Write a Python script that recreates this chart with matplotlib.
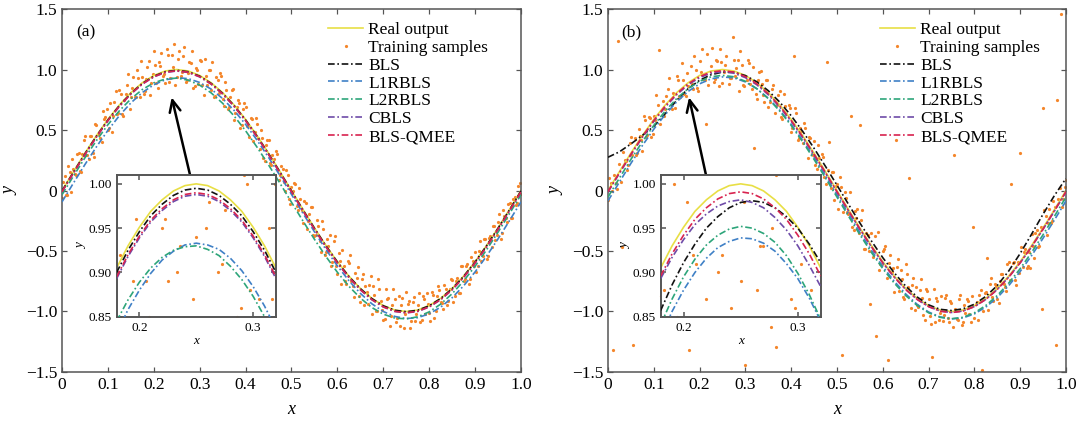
import matplotlib.pyplot as plt
import numpy as np

plt.rcParams['font.family'] = ['Liberation Serif', 'DejaVu Serif']

# curve grid (main axes) and inset grid
grid_x = np.linspace(0, 1, 41)
inset_x = np.linspace(0.18, 0.32, 15)

real = [0.000, 0.156, 0.309, 0.454, 0.588, 0.707, 0.809, 0.891, 0.951, 0.988, 1.000,
        0.988, 0.951, 0.891, 0.809, 0.707, 0.588, 0.454, 0.309, 0.156, 0.000,
        -0.156, -0.309, -0.454, -0.588, -0.707, -0.809, -0.891, -0.951, -0.988, -1.000,
        -0.988, -0.951, -0.891, -0.809, -0.707, -0.588, -0.454, -0.309, -0.156, 0.000]

# panel (a)
a_bls = [-0.004, 0.152, 0.304, 0.449, 0.583, 0.702, 0.803, 0.885, 0.945, 0.982, 0.994,
         0.982, 0.945, 0.885, 0.803, 0.702, 0.583, 0.449, 0.304, 0.152, -0.004,
         -0.160, -0.312, -0.457, -0.591, -0.710, -0.811, -0.893, -0.953, -0.990, -1.002,
         -0.990, -0.953, -0.893, -0.811, -0.710, -0.591, -0.457, -0.312, -0.160, -0.004]
a_l1 = [-0.094, 0.062, 0.215, 0.361, 0.497, 0.619, 0.724, 0.810, 0.874, 0.915, 0.932,
        0.925, 0.893, 0.838, 0.760, 0.662, 0.547, 0.416, 0.274, 0.123, -0.032,
        -0.188, -0.341, -0.487, -0.623, -0.745, -0.850, -0.936, -1.000, -1.041, -1.058,
        -1.051, -1.019, -0.964, -0.886, -0.788, -0.673, -0.542, -0.400, -0.249, -0.094]
a_l2 = [-0.035, 0.120, 0.271, 0.413, 0.544, 0.659, 0.757, 0.835, 0.890, 0.922, 0.929,
        0.912, 0.871, 0.807, 0.721, 0.616, 0.494, 0.358, 0.212, 0.059, -0.097,
        -0.252, -0.403, -0.545, -0.676, -0.791, -0.889, -0.967, -1.022, -1.054, -1.061,
        -1.044, -1.003, -0.939, -0.853, -0.748, -0.626, -0.490, -0.344, -0.191, -0.035]
a_cbls = [-0.012, 0.144, 0.297, 0.442, 0.576, 0.695, 0.797, 0.879, 0.939, 0.976, 0.988,
          0.976, 0.939, 0.879, 0.797, 0.695, 0.576, 0.442, 0.297, 0.144, -0.012,
          -0.168, -0.321, -0.466, -0.600, -0.719, -0.821, -0.903, -0.963, -1.000, -1.012,
          -1.000, -0.963, -0.903, -0.821, -0.719, -0.600, -0.466, -0.321, -0.168, -0.012]
a_qmee = [-0.010, 0.146, 0.299, 0.444, 0.578, 0.697, 0.799, 0.881, 0.941, 0.978, 0.990,
          0.978, 0.941, 0.881, 0.799, 0.697, 0.578, 0.444, 0.299, 0.146, -0.010,
          -0.166, -0.319, -0.464, -0.598, -0.717, -0.819, -0.901, -0.961, -0.998, -1.010,
          -0.998, -0.961, -0.901, -0.819, -0.717, -0.598, -0.464, -0.319, -0.166, -0.010]

# panel (b)
b_bls = [0.275, 0.320, 0.385, 0.455, 0.530, 0.635, 0.745, 0.842, 0.911, 0.957, 0.979,
         0.977, 0.950, 0.899, 0.825, 0.731, 0.618, 0.490, 0.349, 0.199, 0.044,
         -0.113, -0.268, -0.416, -0.555, -0.680, -0.790, -0.880, -0.945, -0.982, -0.992,
         -0.978, -0.940, -0.875, -0.785, -0.665, -0.520, -0.360, -0.195, -0.040, 0.100]
b_l1 = [-0.086, 0.070, 0.224, 0.371, 0.507, 0.628, 0.733, 0.819, 0.882, 0.923, 0.939,
        0.931, 0.898, 0.841, 0.763, 0.664, 0.547, 0.415, 0.272, 0.120, -0.036,
        -0.192, -0.346, -0.493, -0.629, -0.750, -0.855, -0.941, -1.004, -1.045, -1.061,
        -1.053, -1.020, -0.963, -0.885, -0.786, -0.669, -0.537, -0.394, -0.242, -0.086]
b_l2 = [-0.054, 0.103, 0.257, 0.403, 0.538, 0.657, 0.760, 0.842, 0.903, 0.940, 0.952,
        0.940, 0.903, 0.842, 0.760, 0.657, 0.538, 0.403, 0.257, 0.103, -0.054,
        -0.211, -0.365, -0.511, -0.646, -0.765, -0.868, -0.950, -1.011, -1.048, -1.060,
        -1.048, -1.011, -0.950, -0.868, -0.765, -0.646, -0.511, -0.365, -0.211, -0.054]
b_cbls = [-0.013, 0.142, 0.294, 0.439, 0.572, 0.690, 0.792, 0.874, 0.933, 0.970, 0.982,
          0.970, 0.933, 0.874, 0.792, 0.690, 0.572, 0.439, 0.294, 0.142, -0.013,
          -0.168, -0.320, -0.465, -0.598, -0.716, -0.818, -0.900, -0.959, -0.996, -1.008,
          -0.996, -0.959, -0.900, -0.818, -0.716, -0.598, -0.465, -0.320, -0.168, -0.013]
b_qmee = [-0.009, 0.147, 0.300, 0.445, 0.579, 0.698, 0.800, 0.882, 0.942, 0.979, 0.991,
          0.979, 0.942, 0.882, 0.800, 0.698, 0.579, 0.445, 0.300, 0.147, -0.009,
          -0.165, -0.318, -0.463, -0.597, -0.716, -0.818, -0.900, -0.960, -0.997, -1.009,
          -0.997, -0.960, -0.900, -0.818, -0.716, -0.597, -0.463, -0.318, -0.165, -0.009]

# zoomed peak (insets)
real_in = [0.905, 0.930, 0.951, 0.969, 0.982, 0.992, 0.998, 1.000, 0.998, 0.992, 0.982, 0.969, 0.951, 0.930, 0.905]
a_bls_in = [0.900, 0.925, 0.946, 0.964, 0.977, 0.987, 0.993, 0.995, 0.993, 0.987, 0.977, 0.964, 0.946, 0.925, 0.900]
a_l1_in = [0.831, 0.858, 0.880, 0.899, 0.914, 0.924, 0.931, 0.933, 0.931, 0.926, 0.916, 0.902, 0.884, 0.862, 0.836]
a_l2_in = [0.845, 0.869, 0.889, 0.905, 0.917, 0.925, 0.929, 0.930, 0.926, 0.919, 0.907, 0.892, 0.873, 0.850, 0.823]
a_cbls_in = [0.893, 0.918, 0.939, 0.957, 0.970, 0.980, 0.986, 0.988, 0.986, 0.980, 0.970, 0.957, 0.939, 0.918, 0.893]
a_qmee_in = [0.895, 0.920, 0.941, 0.959, 0.972, 0.982, 0.988, 0.990, 0.988, 0.982, 0.972, 0.959, 0.941, 0.920, 0.895]
b_bls_in = [0.857, 0.886, 0.911, 0.932, 0.950, 0.963, 0.973, 0.979, 0.981, 0.979, 0.973, 0.963, 0.950, 0.932, 0.911]
b_l1_in = [0.827, 0.856, 0.880, 0.900, 0.916, 0.928, 0.935, 0.939, 0.938, 0.933, 0.924, 0.910, 0.893, 0.871, 0.845]
b_l2_in = [0.841, 0.870, 0.895, 0.915, 0.931, 0.942, 0.949, 0.952, 0.950, 0.944, 0.934, 0.919, 0.899, 0.875, 0.847]
b_cbls_in = [0.893, 0.917, 0.937, 0.954, 0.966, 0.975, 0.980, 0.982, 0.979, 0.973, 0.962, 0.948, 0.930, 0.908, 0.884]
b_qmee_in = [0.896, 0.921, 0.942, 0.960, 0.973, 0.983, 0.989, 0.991, 0.989, 0.983, 0.973, 0.960, 0.942, 0.921, 0.896]

# training samples: set 1 on x = 0, 1/180, ..., 1 ; set 2 on the midpoints
samples_a = [
    -0.06, 0.12, -0.04, 0.15, 0.26, 0.14, 0.30, 0.16, 0.30, 0.45, 0.29, 0.45, 0.31, 0.55, 0.47, 0.43,
    0.66, 0.61, 0.50, 0.72, 0.62, 0.82, 0.64, 0.80, 0.62, 0.80, 0.96, 0.77, 0.94, 0.77, 0.93, 1.07,
    0.80, 0.92, 1.07, 0.89, 1.15, 0.89, 1.06, 1.14, 0.96, 1.17, 0.90, 1.12, 1.21, 0.94, 1.15, 0.98,
    1.19, 0.91, 1.06, 1.15, 0.86, 1.00, 1.08, 0.87, 1.09, 0.87, 1.00, 1.06, 0.78, 0.91, 0.97, 0.76,
    0.90, 0.67, 0.77, 0.84, 0.64, 0.75, 0.52, 0.67, 0.69, 0.53, 0.60, 0.41, 0.60, 0.43, 0.50, 0.27,
    0.38, 0.42, 0.21, 0.26, 0.33, 0.09, 0.20, 0.07, 0.17, -0.07, 0.03, 0.06, -0.13, 0.02, -0.16, -0.09,
    -0.32, -0.19, -0.14, -0.38, -0.24, -0.42, -0.25, -0.53, -0.40, -0.37, -0.59, -0.38, -0.69, -0.58,
    -0.49, -0.75, -0.58, -0.53, -0.79, -0.68, -0.63, -0.92, -0.69, -0.79, -0.94, -0.71, -0.79, -1.00,
    -0.73, -0.91, -1.07, -0.81, -0.89, -1.04, -0.81, -1.09, -0.87, -0.95, -1.14, -0.84, -0.91, -1.08,
    -0.88, -1.02, -0.85, -1.07, -0.90, -0.85, -1.01, -0.84, -1.05, -0.87, -0.82, -0.93, -0.78, -0.95,
    -0.81, -0.74, -0.87, -0.72, -0.85, -0.62, -0.73, -0.61, -0.73, -0.58, -0.51, -0.62, -0.42, -0.54,
    -0.40, -0.54, -0.38, -0.29, -0.41, -0.26, -0.40, -0.16, -0.23, -0.11, -0.23, -0.07, -0.12, 0.04,
    -0.03]
samples_a2 = [
    0.07, -0.04, 0.20, -0.01, 0.18, 0.13, 0.31, 0.15, 0.42, 0.29,
    0.26, 0.45, 0.28, 0.54, 0.47, 0.40, 0.59, 0.67, 0.52, 0.48,
    0.73, 0.63, 0.83, 0.63, 0.75, 0.87, 0.67, 0.85, 0.77, 1.00,
    0.77, 0.94, 0.82, 1.02, 0.79, 0.96, 1.04, 0.85, 1.03, 0.95,
    0.89, 1.12, 0.93, 1.02, 0.87, 1.09, 0.95, 1.11, 0.90, 0.97,
    1.05, 0.85, 1.01, 0.88, 1.07, 0.79, 0.95, 1.00, 0.83, 0.77,
    0.94, 0.81, 0.95, 0.70, 0.83, 0.69, 0.83, 0.58, 0.69, 0.72,
    0.54, 0.72, 0.53, 0.44, 0.59, 0.48, 0.55, 0.34, 0.43, 0.24,
    0.42, 0.23, 0.29, 0.13, 0.30, 0.13, 0.18, 0.00, 0.13, -0.11,
    0.00, 0.05, -0.16, -0.07, -0.27, -0.10, -0.25, -0.14, -0.37, -0.37,
    -0.29, -0.51, -0.32, -0.51, -0.46, -0.62, -0.42, -0.62, -0.52, -0.77,
    -0.62, -0.77, -0.60, -0.75, -0.88, -0.72, -0.87, -0.73, -0.95, -0.84,
    -0.78, -1.02, -0.86, -1.00, -0.81, -0.99, -1.06, -0.90, -1.12, -0.95,
    -0.90, -1.05, -1.12, -0.89, -1.02, -0.94, -1.14, -0.92, -1.08, -0.95,
    -1.09, -0.87, -1.02, -0.94, -1.08, -0.86, -1.00, -0.79, -0.92, -0.98,
    -0.81, -0.91, -0.73, -0.92, -0.75, -0.85, -0.62, -0.75, -0.62, -0.77,
    -0.55, -0.62, -0.67, -0.50, -0.58, -0.40, -0.57, -0.39, -0.47, -0.29,
    -0.37, -0.19, -0.35, -0.21, -0.26, -0.10, -0.23, -0.05, -0.10, 0.06]
samples_b = [
    -0.08, 0.06, -1.32, 0.06, 1.24, 0.07, 0.32, 0.24, 0.21, 0.44, -1.28, 0.29, 0.51, 0.42, 0.62, 0.44,
    0.61, 0.44, 0.62, 0.79, 1.16, -0.87, 0.62, 0.78, 0.93, 0.67, 0.80, 0.95, 0.78, 1.05, 0.80, 0.97,
    -1.32, 0.88, 1.11, 0.85, 1.07, 1.17, 0.91, 1.13, -0.30, 1.18, 0.92, 1.07, 1.17, 0.89, 1.04, -0.96,
    0.93, 1.27, 0.95, 1.08, 1.15, 0.87, -1.44, 1.08, 0.88, 1.02, 0.80, 0.91, 0.99, 0.79, 0.91, 0.69,
    -1.13, 0.87, -1.29, 0.79, 0.61, 0.80, 0.63, 0.71, 0.48, 1.11, 0.64, 0.43, 0.49, 0.56, -0.72, 0.44,
    0.30, 0.41, 0.18, 0.27, 0.30, 0.11, 1.06, 0.40, 0.15, -0.08, 0.05, 0.11, -1.36, -0.01, -0.18, -0.01,
    -0.30, -0.17, -0.15, 0.54, -0.16, -0.48, -0.37, -0.94, -0.55, -0.38, -0.34, -0.61, -0.50, -0.46,
    -1.40, -0.53, -0.64, 0.42, -0.57, -0.66, -0.88, -0.61, -0.80, -0.97, -0.72, -0.80, -0.96, -0.73,
    -1.03, -0.81, -0.90, -1.10, -0.81, -0.89, -1.07, -0.87, -1.03, -0.86, -1.09, -0.93, 0.29, -1.06,
    -0.90, -1.11, -0.95, -0.90, -1.02, -0.87, -1.05, -0.92, -0.86, -1.48, -0.85, -0.56, -0.77, -0.88,
    -0.77, -0.90, -0.75, -0.69, -0.80, -0.61, -0.74, -0.60, -0.74, -0.59, 0.31, -0.63, -0.48, -0.62,
    -0.64, -0.46, -0.35, -0.47, -0.30, 0.68, -0.21, -0.27, -0.27, -0.09, -1.28, -0.07, 1.46, -0.07,
    0.09]
samples_b2 = [
    0.10, 0.00, 0.13, 0.01, 0.22, -0.47, 0.25, 0.17, 0.39, 0.29,
    0.43, 0.31, 0.45, 0.33, 0.58, 0.46, 0.60, 0.47, 0.58, 0.71,
    0.55, 0.74, 0.67, 0.84, 0.10, 0.81, 0.68, 0.91, 0.77, 0.91,
    0.78, 0.86, 1.03, 0.84, 1.00, 0.82, 0.98, 0.92, 0.55, 0.87,
    1.03, 0.90, 1.08, 0.86, 1.06, 0.98, 1.11, 0.88, 0.93, 1.08,
    1.01, 0.82, 1.04, 0.86, 0.91, 1.05, 0.84, 0.35, 0.76, 0.98,
    0.88, 0.73, 0.91, 0.73, 0.84, 0.64, 0.71, 0.82, 0.59, 0.70,
    -0.10, 0.68, 0.52, 0.68, 0.42, 0.52, 0.39, 0.52, 0.27, 0.43,
    0.29, 0.21, 0.38, 0.21, 0.28, 0.05, 0.17, 0.02, 0.15, 0.04,
    -0.15, 0.03, -0.18, -0.06, -0.19, 0.62, -0.33, -0.23, -0.35, -0.24,
    -0.48, -0.35, -0.50, -0.35, -0.50, -1.20, -0.66, -0.61, -0.48, -0.72,
    -0.60, -0.67, -0.84, -0.63, -0.83, -0.73, -0.90, -0.69, 0.10, -0.78,
    -0.99, -0.95, -0.82, -0.89, -1.07, -0.83, -1.04, -1.38, -1.09, -0.91,
    -1.01, -1.08, -0.89, -1.05, -0.91, -1.13, -0.98, -1.07, -0.86, -1.09,
    -1.01, -0.91, -1.09, -0.30, -0.94, -1.07, -0.82, -1.00, -0.84, -0.99,
    -0.72, -0.91, -0.79, -0.93, -0.69, -0.77, -0.83, -0.59, 0.05, -0.59,
    -0.78, -0.68, -0.47, -0.51, -0.64, -0.51, -0.36, -0.56, -0.33, -0.46,
    -0.98, -0.16, -0.37, -0.15, -0.25, -0.14, 0.75, 0.02, -0.14, 0.03]

labels = ['Real output', 'Training samples', 'BLS', 'L1RBLS', 'L2RBLS', 'CBLS', 'BLS-QMEE']
colors = ['#E8DF45', '#F4862B', '#111111', '#3F80C6', '#2DA57A', '#6E4BA8', '#D8234F']
dash = (0, (4, 1.6, 1, 1.6))
frame = '#555555'

y_ticks = [-1.5, -1.0, -0.5, 0, 0.5, 1.0, 1.5]
y_ticklabels = ['\u22121.5', '\u22121.0', '\u22120.5', '0', '0.5', '1.0', '1.5']
x_ticks = [0, 0.1, 0.2, 0.3, 0.4, 0.5, 0.6, 0.7, 0.8, 0.9, 1.0]
x_ticklabels = ['0', '0.1', '0.2', '0.3', '0.4', '0.5', '0.6', '0.7', '0.8', '0.9', '1.0']


def style(ax, lw, size):
    for s in ax.spines.values():
        s.set_color(frame)
        s.set_linewidth(lw)
    ax.tick_params(direction='in', top=True, right=True, color=frame,
                   labelsize=size, length=3.5, width=lw * 0.8)


def draw_samples(ax, s1, s2, **kw):
    x1 = np.linspace(0, 1, len(s1))
    x2 = np.linspace(1 / 360, 359 / 360, len(s2))
    ax.plot(np.concatenate([x1, x2]), s1 + s2, ls='none', marker='o', ms=2.3,
            mec='none', color=colors[1], zorder=1, **kw)


def panel(ax_pos, in_pos, tag, curves, curves_in, s1, s2, leg_x, arrow):
    ax = fig.add_axes(ax_pos)
    ax.plot(grid_x, real, color=colors[0], lw=1.2, label=labels[0], zorder=2)
    draw_samples(ax, s1, s2, label=labels[1])
    for c, col, lab in zip(curves, colors[2:], labels[2:]):
        ax.plot(grid_x, c, color=col, lw=1.2, ls=dash, label=lab, zorder=3)
    ax.set_xlim(0, 1)
    ax.set_ylim(-1.5, 1.5)
    ax.set_xticks(x_ticks, x_ticklabels)
    ax.set_yticks(y_ticks, y_ticklabels)
    style(ax, 1.1, 12.5)
    ax.set_xlabel('x', fontstyle='italic', fontsize=13, labelpad=6)
    ax.set_ylabel('y', fontstyle='italic', fontsize=13, labelpad=5)
    ax.text(0.03, 0.937, tag, transform=ax.transAxes, fontsize=12.5, va='center')
    ax.legend(loc='upper left', bbox_to_anchor=(leg_x, 0.965), frameon=False, fontsize=12.5,
              borderpad=0, borderaxespad=0, labelspacing=0.1, handlelength=2.0,
              handletextpad=0.3, numpoints=1)
    ax.annotate('', xy=arrow[0], xytext=arrow[1],
                arrowprops=dict(arrowstyle='->,head_length=0.6,head_width=0.28',
                                color='black', lw=1.8, mutation_scale=14, shrinkA=0, shrinkB=0))

    ins = fig.add_axes(in_pos)
    ins.plot(inset_x, real_in, color=colors[0], lw=1.2, zorder=2)
    draw_samples(ins, s1, s2)
    for c, col in zip(curves_in, colors[2:]):
        ins.plot(inset_x, c, color=col, lw=1.2, ls=dash, zorder=3)
    ins.set_xlim(0.18, 0.32)
    ins.set_ylim(0.85, 1.01)
    ins.set_xticks([0.2, 0.3], ['0.2', '0.3'])
    ins.set_yticks([0.85, 0.90, 0.95, 1.00], ['0.85', '0.90', '0.95', '1.00'])
    style(ins, 1.4, 9.5)
    ins.set_xlabel('x', fontstyle='italic', fontsize=9.5, labelpad=1)
    ins.set_ylabel('y', fontstyle='italic', fontsize=9.5, labelpad=1)
    return ax


fig = plt.figure(figsize=(10.82, 4.23), dpi=100)

panel([0.0573, 0.1206, 0.4242, 0.858], [0.1078, 0.2513, 0.1472, 0.335], '(a)',
      [a_bls, a_l1, a_l2, a_cbls, a_qmee],
      [a_bls_in, a_l1_in, a_l2_in, a_cbls_in, a_qmee_in],
      samples_a, samples_a2, 0.58, ((0.239, 0.77), (0.279, 0.128)))
panel([0.5619, 0.1206, 0.4233, 0.858], [0.6106, 0.2513, 0.1479, 0.335], '(b)',
      [b_bls, b_l1, b_l2, b_cbls, b_qmee],
      [b_bls_in, b_l1_in, b_l2_in, b_cbls_in, b_qmee_in],
      samples_b, samples_b2, 0.594, ((0.177, 0.77), (0.214, 0.128)))

fig.savefig('out.png', dpi=100)
